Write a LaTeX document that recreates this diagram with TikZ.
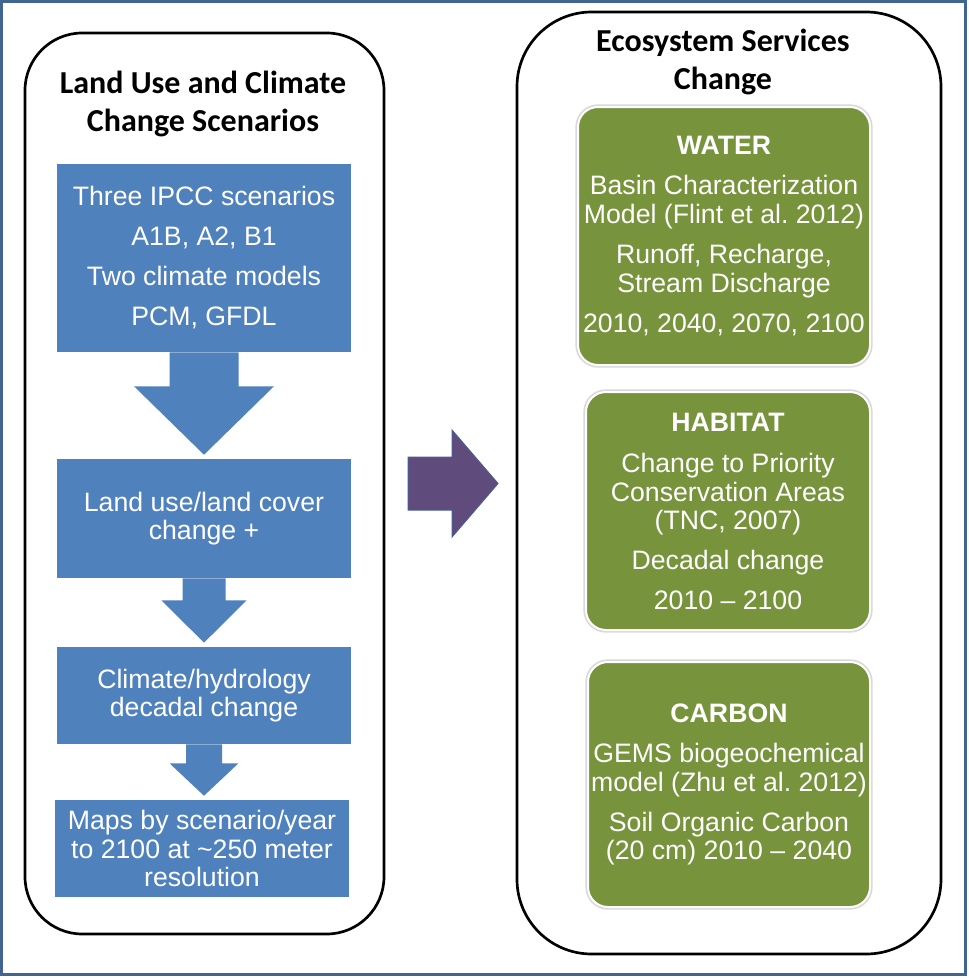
\documentclass[tikz,border=0pt]{standalone}
\usepackage{fontspec}
\setmainfont{Liberation Sans}
\newfontfamily\headfont{Carlito}
\usetikzlibrary{calc}
\frenchspacing
\definecolor{flowblue}{HTML}{4F81BD}
\definecolor{olivegreen}{HTML}{77933C}
\definecolor{frameblue}{RGB}{65,100,145}
\definecolor{plum}{RGB}{95,75,124}
\definecolor{plumedge}{RGB}{74,94,149}
\tikzset{panel/.style={draw=black,line width=2pt,fill=white,inner sep=0pt}}
\tikzset{heading/.style={font=\headfont\bfseries\fontsize{24}{28.5}\selectfont,align=center}}
\tikzset{stage/.style={fill=flowblue,text=white,inner sep=0pt,align=center,minimum width=220.5pt,font=\fontsize{20}{21.5}\selectfont}}
\tikzset{service/.style={fill=olivegreen,text=white,draw=white,line width=1.5pt,rounded corners=15pt,inner sep=0pt,align=center,font=\fontsize{20}{21.5}\selectfont,preaction={draw=black!15,line width=4pt}}}
\newcommand{\flowarrow}[5]{\fill[flowblue]($(#1.south)+(-#3,0)$)--++(0,#5)--++(#3-#4,0)--($(#1.south|-#2.north)+(0,-4)$)--($(#1.south)+(#4,#5)$)--++(#3-#4,0)--($(#1.south)+(#3,0)$)--cycle;}

\begin{document}
\begin{tikzpicture}[x=0.75pt,y=-0.75pt]
\useasboundingbox (0,0) rectangle (968,978);
\draw[frameblue,line width=2.25pt] (1.5,1.5) rectangle (965.5,974.5);
\node[panel,rounded corners=43pt,minimum width=269.25pt,minimum height=675.75pt](scenarios) at (204.5,483.5){};
\node[panel,rounded corners=56pt,minimum width=318pt,minimum height=706.5pt](services) at (729,483){};
\node[heading](scentitle) at (203,104){Land Use and Climate\\Change Scenarios};
\node[heading](servtitle) at (723,61.5){Ecosystem Services\\Change};
\node[stage,minimum height=141pt](ipcc) at (204,258){Three IPCC scenarios\\[8.5pt]A1B, A2, B1\\[8.5pt]Two climate models\\[8.5pt]PCM, GFDL};
\node[stage,minimum height=89.25pt](lulc) at (204,518.5){Land use/land cover\\change +};
\node[stage,minimum height=72.75pt](hydro) at (204,695.5){Climate/hydrology\\decadal change};
\node[stage,minimum height=72.75pt](maps) at (202,848.5){Maps by scenario/year\\to 2100 at \textasciitilde250 meter\\resolution};
\flowarrow{ipcc}{lulc}{34.5}{70}{34}
\flowarrow{lulc}{hydro}{21.5}{42.5}{22}
\flowarrow{hydro}{maps}{18}{34.5}{19}
\coordinate (go) at (408,483.5);
\filldraw[fill=plum,draw=plumedge,line width=0.75pt] ($(go)+(0,-26.5)$)--++(44,0)--++(0,-27)--++(46,53.5)--++(-46,53.5)--++(0,-27)--++(-44,0)--cycle;
\node[service,minimum width=219pt,minimum height=193.5pt](water) at (724,236){\textbf{WATER}\\[8.5pt]Basin Characterization\\Model (Flint et al. 2012)\\[8.5pt]Runoff, Recharge,\\Stream Discharge\\[8.5pt]2010, 2040, 2070, 2100};
\node[service,minimum width=213pt,minimum height=178.5pt](habitat) at (728,511){\textbf{HABITAT}\\[9.5pt]Change to Priority\\Conservation Areas\\(TNC, 2007)\\[8.5pt]Decadal change\\[8pt]2010 -- 2100};
\node[service,minimum width=211.5pt,minimum height=183.75pt](carbon) at (729,784.5){\textbf{CARBON}\\[8.5pt]GEMS biogeochemical\\model (Zhu et al. 2012)\\[8.5pt]Soil Organic Carbon\\(20 cm) 2010 -- 2040};
\end{tikzpicture}
\end{document}
